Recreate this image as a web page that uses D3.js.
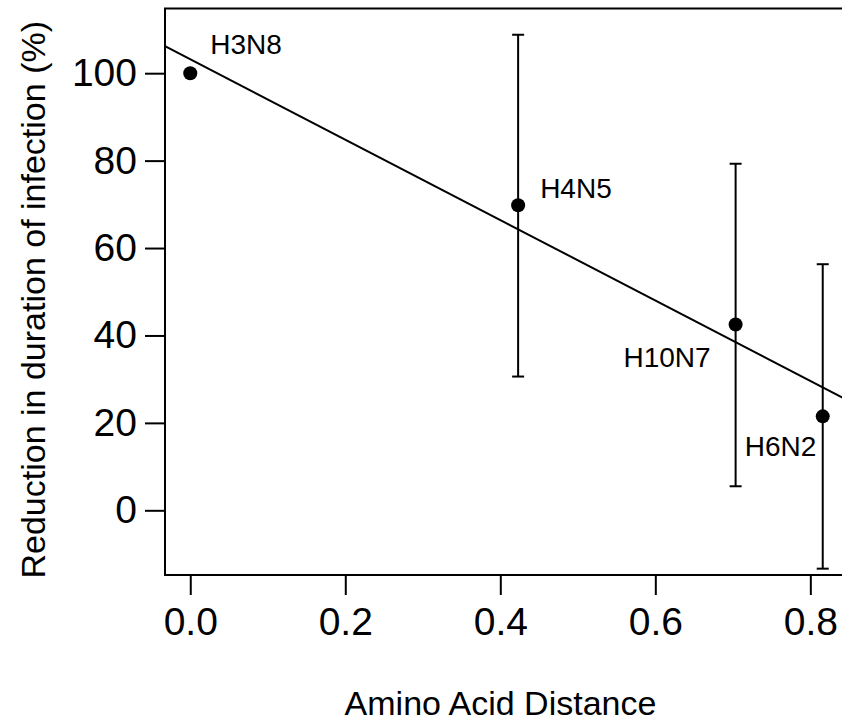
<!DOCTYPE html>
<html>
<head>
<meta charset="utf-8">
<script src="https://cdnjs.cloudflare.com/ajax/libs/d3/7.8.5/d3.min.js"></script>
<style>
  body { margin: 0; background: #fff; }
  svg { display: block; font-family: "Liberation Sans", Arial, Helvetica, sans-serif; }
</style>
</head>
<body>
<div class="wrapper"></div>
<script>
// values
var strains = ["H3N8", "H4N5", "H10N7", "H6N2"];
var distance = [0, 0.423, 0.7036, 0.816];
var reduction = [100, 69.8, 42.5, 21.5];
var lower = [null, 30.6, 5.5, -13.35];
var upper = [null, 108.8, 79.3, 56.3];
var xTicks = [0, 0.2, 0.4, 0.6, 0.8];
var yTicks = [0, 20, 40, 60, 80, 100];
// fitted line
var fitIntercept = 103.2;
var fitSlope = -92;

// label placement relative to each point (pixels)
var labelOffsets = [[20, -19, "start"], [22, -7, "start"], [-25, 42, "end"], [-78, 40, "start"]];

var width = 842,
  height = 725;
var margin = {top: 8.5, right: -6, bottom: 150, left: 165};

var svg = d3.select(".wrapper").append("svg")
  .attr("width", width)
  .attr("height", height);

var x = d3.scaleLinear()
  .domain([-0.0326, 0.8486])
  .range([margin.left, width - margin.right]);
var y = d3.scaleLinear()
  .domain([-14.8, 114.8])
  .range([height - margin.bottom, margin.top]);

svg.append("clipPath").attr("id", "plotclip")
  .append("rect")
  .attr("x", x.range()[0]).attr("y", y.range()[1])
  .attr("width", x.range()[1] - x.range()[0])
  .attr("height", y.range()[0] - y.range()[1]);

// x axis
var xAxis = svg.append("g")
  .attr("transform", "translate(0," + y.range()[0] + ")")
  .call(d3.axisBottom(x).tickValues(xTicks).tickFormat(d3.format(".1f")).tickSize(20).tickPadding(12));
// y axis
var yAxis = svg.append("g")
  .attr("transform", "translate(" + x.range()[0] + ",0)")
  .call(d3.axisLeft(y).tickValues(yTicks).tickFormat(d3.format("d")).tickSize(20).tickPadding(8));

[xAxis, yAxis].forEach(function(a) {
  a.select(".domain").remove();
  a.selectAll("line").attr("stroke", "#000").attr("stroke-width", 2);
  a.selectAll("text")
    .attr("fill", "#000")
    .style("font-size", "39px")
    .style("font-family", "'Liberation Sans', Arial, sans-serif");
});

// box
svg.append("rect")
  .attr("x", x.range()[0])
  .attr("y", y.range()[1])
  .attr("width", x.range()[1] - x.range()[0])
  .attr("height", y.range()[0] - y.range()[1])
  .attr("fill", "none")
  .attr("stroke", "#000")
  .attr("stroke-width", 2);

var plot = svg.append("g").attr("clip-path", "url(#plotclip)");

// regression line
var xd = x.domain();
plot.append("line")
  .attr("x1", x(xd[0])).attr("y1", y(fitIntercept + fitSlope * xd[0]))
  .attr("x2", x(xd[1])).attr("y2", y(fitIntercept + fitSlope * xd[1]))
  .attr("stroke", "#000")
  .attr("stroke-width", 2);

var pts = strains.map(function(s, i) {
  return {name: s, x: distance[i], y: reduction[i], lo: lower[i], hi: upper[i], off: labelOffsets[i]};
});

// error bars
var bars = plot.selectAll(".err")
  .data(pts.filter(function(d) { return d.lo !== null; }))
  .enter().append("g").attr("class", "err");
bars.append("line")
  .attr("x1", function(d) { return x(d.x); })
  .attr("x2", function(d) { return x(d.x); })
  .attr("y1", function(d) { return y(d.lo); })
  .attr("y2", function(d) { return y(d.hi); })
  .attr("stroke", "#000").attr("stroke-width", 2);
["lo", "hi"].forEach(function(k) {
  bars.append("line")
    .attr("x1", function(d) { return x(d.x) - 6; })
    .attr("x2", function(d) { return x(d.x) + 6; })
    .attr("y1", function(d) { return y(d[k]); })
    .attr("y2", function(d) { return y(d[k]); })
    .attr("stroke", "#000").attr("stroke-width", 2);
});

// points
plot.selectAll("circle")
  .data(pts)
  .enter().append("circle")
  .attr("cx", function(d) { return x(d.x); })
  .attr("cy", function(d) { return y(d.y); })
  .attr("r", 7)
  .attr("fill", "#000");

// point labels
svg.selectAll(".lbl")
  .data(pts)
  .enter().append("text")
  .attr("class", "lbl")
  .attr("x", function(d) { return x(d.x) + d.off[0]; })
  .attr("y", function(d) { return y(d.y) + d.off[1]; })
  .attr("text-anchor", function(d) { return d.off[2]; })
  .style("font-size", "28px")
  .text(function(d) { return d.name; });

// axis titles
svg.append("text")
  .attr("x", (x.range()[0] + x.range()[1]) / 2 - 6)
  .attr("y", 715)
  .attr("text-anchor", "middle")
  .style("font-size", "34px")
  .text("Amino Acid Distance");

svg.append("text")
  .attr("transform", "translate(45," + ((y.range()[0] + y.range()[1]) / 2 + 8) + ") rotate(-90)")
  .attr("text-anchor", "middle")
  .style("font-size", "34px")
  .text("Reduction in duration of infection (%)");
</script>
</body>
</html>
